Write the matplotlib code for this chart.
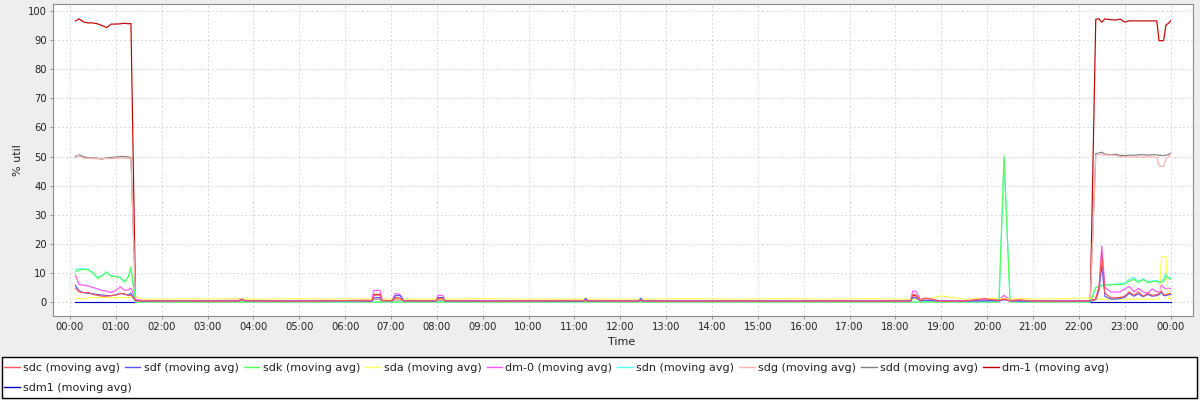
import matplotlib
matplotlib.use("Agg")
import matplotlib.pyplot as plt
import numpy as np
from matplotlib.lines import Line2D
from matplotlib.patches import Rectangle

nan = float("nan")

# time axis in hours after 00:00: busy start, quiet day, busy end
hours = [0.12, 0.2, 0.3, 0.4, 0.5,
         0.6, 0.7, 0.8, 0.9, 1.0,
         1.1, 1.2, 1.27, 1.33, 1.43,
         # quiet
         1.6, 2.0, 2.5, 3.0, 3.68, 3.75, 3.82,
         4.3, 5.0, 5.5, 6.0, 6.58, 6.63, 6.76,
         6.81, 7.02, 7.1, 7.2, 7.28, 7.98, 8.03,
         8.13, 8.18, 9.0, 10.0, 11.0, 11.2, 11.25,
         11.3, 12.0, 12.4, 12.45, 12.5, 13.5, 14.5,
         15.5, 16.5, 17.5, 18.0, 18.33, 18.38, 18.44,
         18.55, 18.62, 18.72, 18.95, 19.05, 19.5, 19.95,
         20.26, 20.37, 20.5, 20.7, 21.0, 22.0, 22.25,
         # busy end
         22.37, 22.44, 22.5, 22.57, 22.7, 22.8, 22.9,
         23.0, 23.1, 23.2, 23.3, 23.4, 23.5, 23.6,
         23.7, 23.75, 23.8, 23.85, 23.9, 23.95, 24.0]

sdc = [4.8, 3.5, 3.2, 3.3, 2.6, 2.3, 2.0, 2.0, 2.2, 2.4, 2.9, 2.8, 2.2, 2.4, 0.4,
       0.4, 0.3, 0.4, 0.3, 0.3, 0.8, 0.4,
       0.3, 0.3, 0.3, 0.5, 0.4, 2.4, 2.4,
       0.5, 0.4, 1.5, 1.2, 0.4, 0.4, 1.2,
       1.2, 0.4, 0.3, 0.3, 0.5, 0.4, 0.4,
       0.4, 0.3, 0.3, 0.5, 0.3, 0.3, 0.3,
       0.3, 0.3, 0.3, 0.3, 0.3, 2.5, 2.5,
       0.5, 1.3, 1.3, 0.3, 0.3, 0.3, 1.2,
       0.5, 1.0, 0.4, 0.8, 0.3, 0.3, 0.4,
       1.0, 5.0, 16.8, 3.0, 1.5, 1.5, 1.6,
       2.0, 3.5, 2.3, 3.5, 2.0, 3.0, 2.3,
       2.5, 3.0, 3.8, 2.5, 2.5, 2.8, 3.0]

sdf = [5.7, 3.8, 3.2, 3.0, 2.8, 2.6, 2.4, 2.2, 2.2, 2.5, 3.0, 2.6, 2.4, 3.0, 0.5,
       0.3, 0.3, 0.4, 0.3, 0.3, 1.0, 0.4,
       0.3, 0.3, 0.3, 0.4, 0.3, 1.5, 1.5,
       0.5, 0.4, 2.2, 2.2, 0.4, 0.3, 1.5,
       1.5, 0.3, 0.3, 0.3, 0.3, 0.3, 1.3,
       0.3, 0.3, 0.3, 1.3, 0.3, 0.3, 0.3,
       0.3, 0.3, 0.3, 0.3, 0.3, 1.5, 1.5,
       0.4, 0.6, 0.6, 0.3, 0.3, 0.3, 0.4,
       0.4, 0.8, 0.4, 0.3, 0.3, 0.3, 0.3,
       0.8, 4.0, 12.7, 2.0, 1.0, 1.0, 1.2,
       1.6, 3.0, 2.0, 2.8, 1.8, 2.6, 2.0,
       2.2, 2.6, 3.3, 2.2, 2.2, 2.5, 2.5]

sdk = [10.3, 11.0, 11.2, 11.0, 10.0, 8.2, 9.0, 10.4, 8.8, 8.8, 8.3, 6.8, 8.5, 12.0, 0.0,
       0.0, 0.0, 0.0, 0.0, 0.0, 0.0, 0.0,
       0.0, 0.0, 0.0, 0.0, 0.0, 0.0, 0.0,
       0.0, 0.0, 0.0, 0.0, 0.0, 0.0, 0.0,
       0.0, 0.0, 0.0, 0.0, 0.0, 0.0, 0.0,
       0.0, 0.0, 0.0, 0.0, 0.0, 0.0, 0.0,
       0.0, 0.0, 0.0, 0.0, 0.0, 0.0, 0.0,
       0.0, 0.0, 0.0, 0.0, 0.0, 0.0, 0.0,
       0.0, 50.2, 0.0, 0.0, 0.0, 0.0, 0.0,
       5.0, 5.3, 5.5, 5.8, 5.9, 6.0, 6.0,
       6.2, 7.2, 7.8, 6.7, 7.8, 6.7, 7.0,
       7.2, 6.7, 6.8, 7.0, 9.0, 8.2, 7.8]

sda = [1.3, 1.2, 1.0, 1.5, 1.5, 1.5, 1.6, 1.5, 1.5, 1.5, 1.5, 1.5, 1.6, 1.6, 1.9,
       1.0, 1.0, 1.2, 1.0, 1.2, 1.0, 1.0,
       1.0, 1.2, 1.0, 1.2, 1.0, 1.5, 1.5,
       1.0, 1.0, 1.3, 1.0, 1.0, 1.0, 1.2,
       1.0, 1.0, 1.2, 1.0, 1.0, 1.0, 1.2,
       1.0, 1.0, 1.0, 1.2, 1.0, 1.2, 1.0,
       1.2, 1.0, 1.2, 1.0, 1.0, 1.0, 1.0,
       1.0, 1.0, 1.0, 2.0, 2.0, 1.0, 1.2,
       1.2, 1.0, 1.0, 1.2, 1.0, 1.3, 1.3,
       1.2, 1.0, 1.0, 1.0, 1.0, 1.0, 1.0,
       1.0, 1.0, 1.0, 1.0, 1.0, 1.0, 1.0,
       1.0, 1.0, 15.6, 15.6, 15.6, 1.2, 1.2]

dm0 = [9.2, 6.0, 5.8, 5.5, 5.0, 4.5, 4.0, 3.7, 3.3, 4.0, 5.2, 4.0, 4.2, 4.8, 0.8,
       0.6, 0.5, 0.5, 0.5, 0.6, 1.2, 0.6,
       0.5, 0.5, 0.6, 0.5, 0.8, 4.0, 4.0,
       0.8, 0.6, 3.0, 2.5, 0.6, 0.5, 2.3,
       2.3, 0.5, 0.5, 0.5, 0.6, 0.6, 0.8,
       0.6, 0.5, 0.5, 0.8, 0.5, 0.5, 0.5,
       0.5, 0.5, 0.5, 0.5, 0.5, 3.8, 3.8,
       1.0, 1.0, 1.0, 0.5, 0.5, 0.5, 0.8,
       0.8, 2.3, 0.8, 0.5, 0.5, 0.5, 0.5,
       1.5, 5.0, 19.2, 5.0, 3.5, 3.4, 3.5,
       4.5, 5.3, 3.5, 4.7, 3.5, 3.0, 4.5,
       3.5, 3.6, 5.8, 5.0, 4.5, 4.8, 4.6]

sdn = [11.0, 11.5, 11.5, 11.2, 10.2, 8.5, 9.2, 10.2, 9.0, 8.8, 8.5, 7.0, 8.8, 11.5, 0.0,
       0.0, 0.0, 0.0, 0.0, 0.0, 0.0, 0.0,
       0.0, 0.0, 0.0, 0.0, 0.0, 0.0, 0.0,
       0.0, 0.0, 0.0, 0.0, 0.0, 0.0, 0.0,
       0.0, 0.0, 0.0, 0.0, 0.0, 0.0, 0.0,
       0.0, 0.0, 0.0, 0.0, 0.0, 0.0, 0.0,
       0.0, 0.0, 0.0, 0.0, 0.0, 0.0, 0.0,
       0.0, 0.0, 0.0, 0.0, 0.0, 0.0, 0.0,
       0.3, 48.8, 0.8, 0.0, 0.0, 0.0, 0.0,
       5.0, 5.5, 5.8, 6.0, 6.0, 6.2, 6.3,
       6.5, 7.8, 8.5, 7.0, 8.0, 7.0, 7.2,
       7.5, 7.0, 7.2, 7.8, 10.0, 8.5, 8.2]

sdg = [50.4, 50.2, 49.4, 49.4, 49.3, 49.2, 49.4, 49.3, 49.3, 49.4, 49.5, 49.4, 49.4, 49.5, 0.3,
       0.3, 0.3, 0.3, 0.3, 0.3, 0.6, 0.3,
       0.3, 0.3, 0.3, 0.3, 0.3, 1.2, 1.2,
       0.3, 0.3, 0.8, 0.8, 0.3, 0.3, 0.8,
       0.8, 0.3, 0.3, 0.3, 0.3, 0.3, 0.3,
       0.3, 0.3, 0.3, 0.3, 0.3, 0.3, 0.3,
       0.3, 0.3, 0.3, 0.3, 0.3, 1.8, 1.8,
       0.5, 0.8, 0.8, 0.3, 0.3, 0.3, 0.4,
       0.4, 1.2, 0.4, 0.3, 0.3, 0.3, 0.4,
       50.5, 51.0, 50.6, 50.5, 50.5, 50.4, 50.0,
       49.9, 49.8, 49.8, 49.9, 49.8, 49.9, 49.8,
       49.8, 47.0, 46.6, 46.6, 49.5, 49.8, 50.8]

sdd = [49.8, 50.6, 49.9, 49.6, 49.5, 49.4, 49.1, 49.5, 49.7, 49.8, 50.0, 50.0, 49.8, 49.7, 0.3,
       0.2, 0.2, 0.2, 0.2, 0.2, 0.5, 0.2,
       0.2, 0.2, 0.2, 0.2, 0.2, 1.0, 1.0,
       0.2, 0.2, 0.7, 0.7, 0.2, 0.2, 0.6,
       0.6, 0.2, 0.2, 0.2, 0.2, 0.2, 0.2,
       0.2, 0.2, 0.2, 0.2, 0.2, 0.2, 0.2,
       0.2, 0.2, 0.2, 0.2, 0.2, 1.5, 1.5,
       0.4, 0.6, 0.6, 0.2, 0.2, 0.2, 0.3,
       0.3, 1.0, 0.3, 0.2, 0.2, 0.2, 0.3,
       51.0, 51.2, 51.5, 50.8, 50.6, 50.8, 50.4,
       50.3, 50.5, 50.4, 50.6, 50.6, 50.5, 50.6,
       50.6, 50.4, 50.4, 50.3, 50.5, 50.6, 51.1]

dm1 = [96.6, 97.3, 96.2, 95.9, 95.9, 95.6, 95.0, 94.3, 95.5, 95.5, 95.6, 95.8, 95.6, 95.7, 0.5,
       0.4, 0.4, 0.4, 0.4, 0.4, 0.8, 0.4,
       0.4, 0.4, 0.4, 0.5, 0.4, 2.6, 2.6,
       0.5, 0.4, 1.4, 1.2, 0.4, 0.4, 1.4,
       1.4, 0.4, 0.4, 0.4, 0.5, 0.4, 0.4,
       0.4, 0.4, 0.4, 0.5, 0.4, 0.4, 0.4,
       0.4, 0.4, 0.4, 0.4, 0.4, 2.2, 2.2,
       0.6, 1.0, 1.0, 0.4, 0.4, 0.4, 0.5,
       0.5, 1.2, 0.5, 0.4, 0.4, 0.4, 0.5,
       97.2, 97.3, 96.1, 97.3, 97.0, 96.9, 97.2,
       96.2, 96.6, 96.6, 96.6, 96.6, 96.6, 96.6,
       96.6, 89.8, 89.8, 89.8, 95.2, 95.7, 96.6]

# sdm1 reports nothing during the quiet part of the day
sdm1 = [0.0, 0.0, 0.0, 0.0, 0.0, 0.0, 0.0, 0.0, 0.0, 0.0, 0.0, 0.0, 0.0, 0.0, 0.0,
        nan, nan, nan, nan, nan, nan, nan,
        nan, nan, nan, nan, nan, nan, nan,
        nan, nan, nan, nan, nan, nan, nan,
        nan, nan, nan, nan, nan, nan, nan,
        nan, nan, nan, nan, nan, nan, nan,
        nan, nan, nan, nan, nan, nan, nan,
        nan, nan, nan, nan, nan, nan, nan,
        nan, nan, nan, nan, nan, nan, 0.0,
        0.0, 0.0, 0.0, 0.0, 0.0, 0.0, 0.0,
        0.0, 0.0, 0.0, 0.0, 0.0, 0.0, 0.0,
        0.0, 0.0, 0.0, 0.0, 0.0, 0.0, 0.0]

names = ["sdc", "sdf", "sdk", "sda", "dm-0", "sdn", "sdg", "sdd", "dm-1", "sdm1"]
series = [sdc, sdf, sdk, sda, dm0, sdn, sdg, sdd, dm1, sdm1]
colors = ["#ff5555", "#5555ff", "#55ff55", "#ffff55", "#ff55ff",
          "#55ffff", "#ffafaf", "#808080", "#c00000", "#0000c0"]

tick_labels = ["%02d:00" % (h % 24) for h in range(25)]

plt.rcParams['font.family'] = ['DejaVu Sans']

fig = plt.figure(figsize=(12, 4), dpi=100, facecolor="#eeeeee")
ax = fig.add_axes([53 / 1200, 1 - 316 / 400, 1140 / 1200, 312 / 400])
ax.set_facecolor("white")

x = np.array(hours)
for i, (name, vals) in enumerate(zip(names, series)):
    # first series ends up on top, like the original renderer
    ax.plot(x, np.array(vals, dtype=float), color=colors[i], lw=0.85,
            zorder=20 - i)

ax.set_xlim(-0.37, 24.49)
ax.set_ylim(-4.8, 102.4)
ax.set_xticks(range(25))
ax.set_xticklabels(tick_labels)
ax.set_yticks(range(0, 101, 10))

ax.grid(True, color="#d2d2d2", lw=0.6, linestyle=(0, (2.5, 2.5)))
ax.set_axisbelow(True)
for s in ax.spines.values():
    s.set_color("#8c8c8c")
    s.set_linewidth(0.8)
ax.tick_params(axis="both", colors="#8c8c8c", labelcolor="#222222",
               length=2.5, width=0.6, labelsize=7.2, pad=2)

fig.text(18 / 1200, 1 - 160 / 400, "% util", rotation=90, ha="center",
         va="center", fontsize=8, color="#222222")
fig.text(622 / 1200, 1 - 342 / 400, "Time", ha="center", va="center",
         fontsize=8, color="#222222")

# legend: box across the bottom, one full row and one leftover entry
fig.patches.append(Rectangle((2 / 1200, 1 - 398 / 400), 1195 / 1200, 41 / 400,
                             transform=fig.transFigure, facecolor="white",
                             edgecolor="black", lw=1.0, zorder=0))
handles = [Line2D([], [], color=c, lw=1.0) for c in colors]
labels = [n + " (moving avg)" for n in names]
common = dict(frameon=False, fontsize=8, handlelength=1.4, handletextpad=0.3,
              columnspacing=0.45, borderpad=0, borderaxespad=0,
              labelcolor="#222222")
fig.legend(handles[:9], labels[:9], ncol=9, loc="center left",
           bbox_to_anchor=(4 / 1200, 1 - 368 / 400), **common)
fig.legend(handles[9:], labels[9:], ncol=1, loc="center left",
           bbox_to_anchor=(4 / 1200, 1 - 388 / 400), **common)

fig.savefig("out.png", dpi=100, facecolor=fig.get_facecolor())
